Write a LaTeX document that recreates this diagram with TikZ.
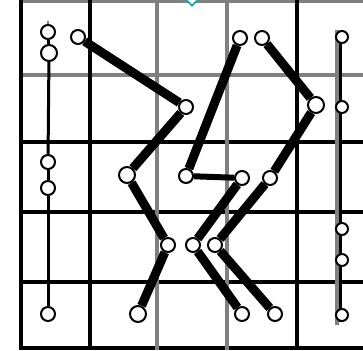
\documentclass[tikz,border=0pt]{standalone}
\usepackage{xcolor}
\usepackage{tikz}
\usetikzlibrary{backgrounds,shapes.geometric}
\definecolor{kgray}{RGB}{128,128,128}
\definecolor{kteal}{RGB}{20,170,180}
\tikzset{
  knob/.style   ={circle, draw=black, line width=2pt, fill=white,
                  minimum size=14pt, inner sep=0pt},
  link/.style   ={draw=black, line width=9pt},
  strand/.style ={draw=black, line width=3pt},
  gblack/.style ={draw=black, line width=3.5pt},
  ggray/.style  ={draw=kgray, line width=3.5pt}
}
\begin{document}
\begin{tikzpicture}[x=1pt, y=-1pt]
\useasboundingbox (0,0) rectangle (363,350);
% left strand
\node[knob] (a1) at (48,32) {};
\node[knob, minimum size=16pt] (a2) at (49,53) {};
\node[knob] (a3) at (48,162) {};
\node[knob] (a4) at (48,188) {};
\node[knob] (a5) at (48,314) {};
% first chain
\node[knob] (p1) at (78,37) {};
\node[knob] (p2) at (186,107) {};
\node[knob, minimum size=16pt] (p3) at (127,175) {};
\node[knob] (p4) at (168,245) {};
\node[knob, minimum size=16pt] (p5) at (138,314) {};
% second chain
\node[knob] (q1) at (240,38) {};
\node[knob] (q2) at (186,176) {};
\node[knob] (q3) at (242,178) {};
\node[knob] (q4) at (193,245) {};
\node[knob] (q5) at (242,314) {};
% third chain
\node[knob] (r1) at (262,38) {};
\node[knob, minimum size=16pt] (r2) at (316,105) {};
\node[knob] (r3) at (270,178) {};
\node[knob] (r4) at (215,245) {};
\node[knob] (r5) at (275,314) {};
% right strand
\node[knob, minimum size=12pt] (s1) at (342,37) {};
\node[knob, minimum size=12pt] (s2) at (342,107) {};
\node[knob, minimum size=12pt] (s3) at (342,229) {};
\node[knob, minimum size=12pt] (s4) at (342,260) {};
\node[knob, minimum size=12pt] (s5) at (342,315) {};
\node[diamond, draw=kteal, line width=1.8pt, fill=white, minimum size=18pt,
  inner sep=0pt] (mark) at (192,-3) {};

\begin{scope}[on background layer]
% grid
\foreach \y in {1.5,75} \draw[ggray] (21,\y) -- (363,\y);
\foreach \y in {142,212,282,348} \draw[gblack] (21,\y) -- (363,\y);
\foreach \x in {21,90,297} \draw[gblack] (\x,0) -- (\x,350);
\foreach \x in {157,227} \draw[ggray] (\x,0) -- (\x,350);
\draw[kgray, line width=3.5pt] (337,30) -- (337,325);
\draw[kgray, line width=2.5pt] (48,21) -- (48,28);
% strands
\draw[strand] (a1) -- (a2);
\draw[strand] (a2) -- (a3);
\draw[strand] (a3) -- (a4);
\draw[strand] (a4) -- (a5);
\draw[strand] (340,37) -- (340,322);
% links
\draw[link] (p1) -- (p2);
\draw[link] (p2) -- (p3);
\draw[link] (p3) -- (p4);
\draw[link] (p4) -- (p5);
\draw[link] (q1) -- (q2);
\draw[link, line width=6pt] (q2) -- (q3);
\draw[link] (q3) -- (q4);
\draw[link] (q4) -- (q5);
\draw[link] (r1) -- (r2);
\draw[link] (r2) -- (r3);
\draw[link] (r3) -- (r4);
\draw[link] (r4) -- (r5);
\end{scope}
\end{tikzpicture}
\end{document}
